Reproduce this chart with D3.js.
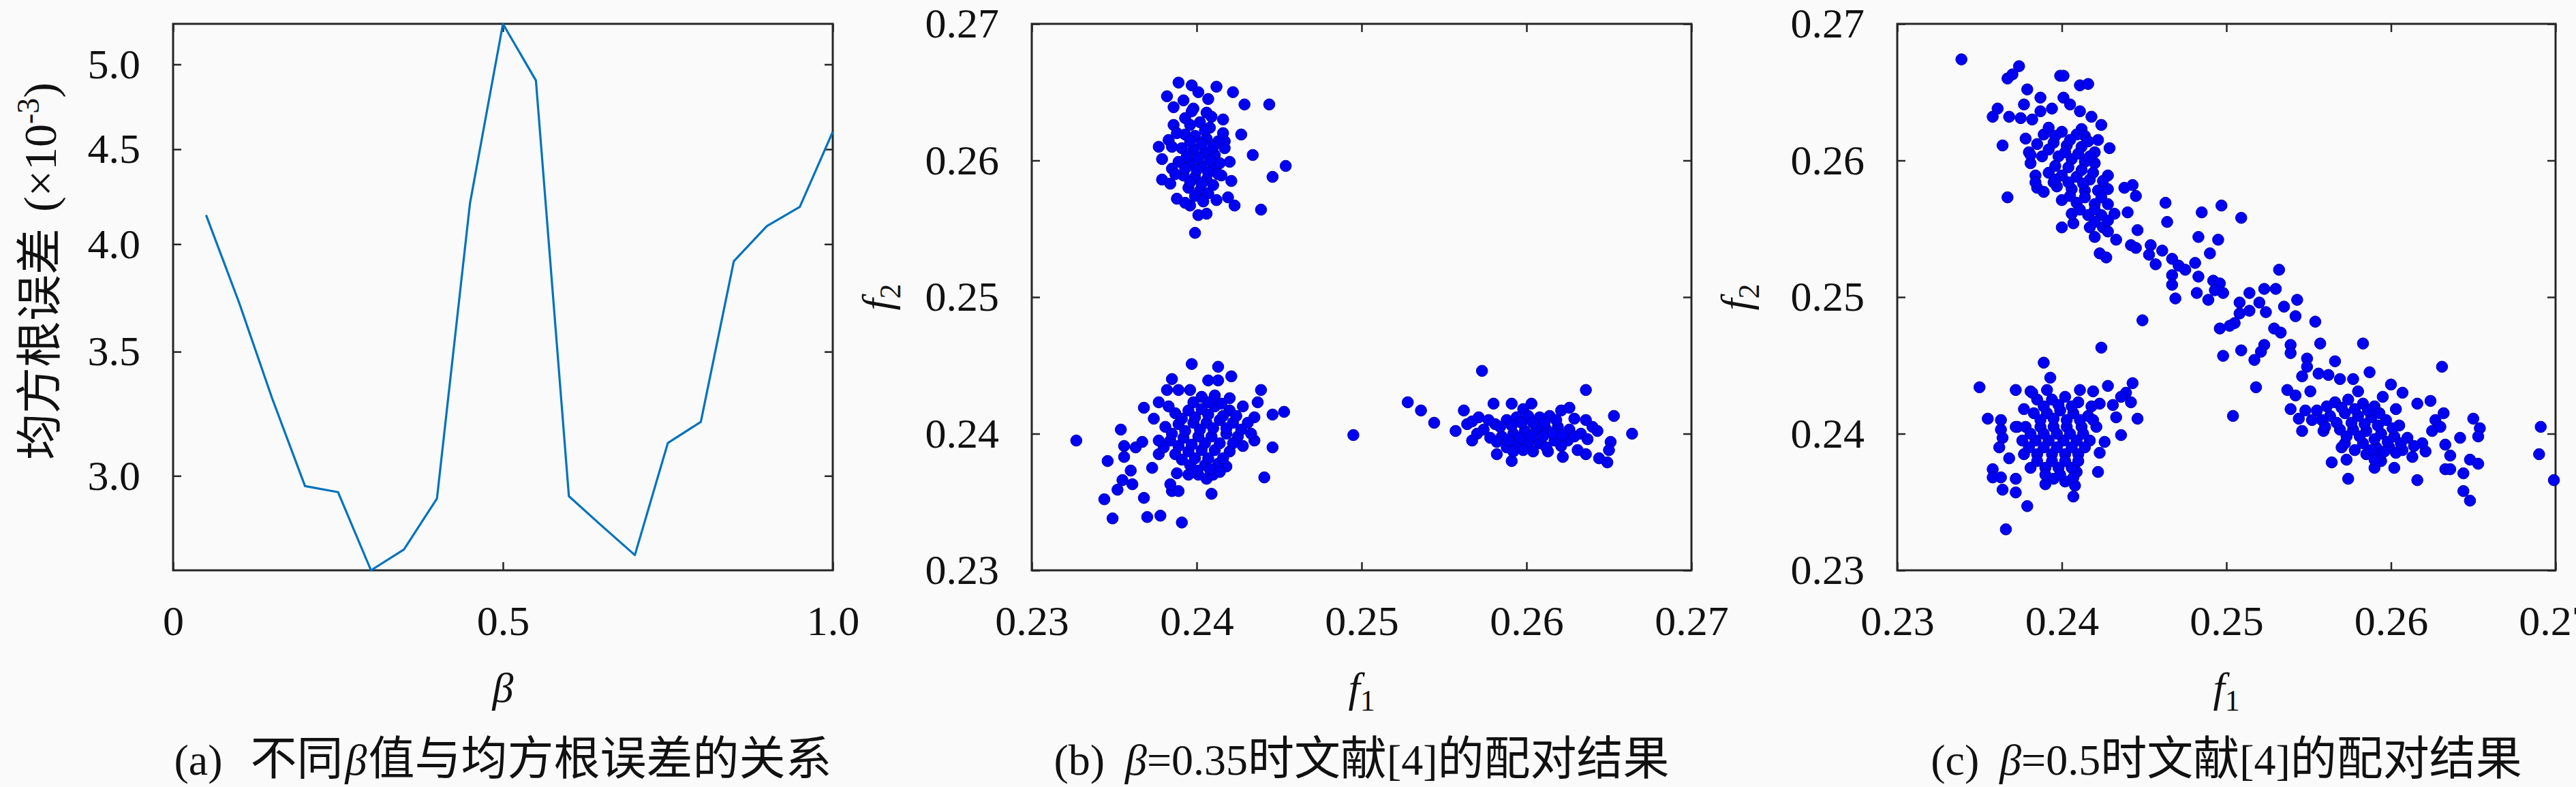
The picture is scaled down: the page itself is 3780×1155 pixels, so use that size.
<!DOCTYPE html>
<html>
<head>
<meta charset="utf-8">
<title>β值与均方根误差 / 配对结果</title>
<script src="https://cdn.jsdelivr.net/npm/d3@7"></script>
<style>
  body { margin: 0; background: #fafafa; }
  svg { display: block; }
  text { font-family: "Liberation Serif", "Noto Sans CJK SC", serif; fill: #111; }
</style>
</head>
<body>
<svg id="fig" width="3780" height="1155"></svg>
<script>
// ---- (a) 不同β值与均方根误差 ----
const beta = [0.05, 0.10, 0.15, 0.20, 0.25, 0.30, 0.35, 0.40, 0.45, 0.50,
              0.55, 0.60, 0.65, 0.70, 0.75, 0.80, 0.85, 0.90, 0.95, 1.00];
const rmse = [4.147, 3.720, 3.304, 2.962, 2.940, 2.668, 2.738, 2.917, 4.207, 5.258,
              4.901, 2.925, 2.819, 2.719, 3.125, 3.208, 3.916, 4.090, 4.189, 4.599];
const rmseTicks = [3.0, 3.5, 4.0, 4.5, 5.0];
const betaTicks = [0, 0.5, 1.0];
const fTicks = [0.23, 0.24, 0.25, 0.26, 0.27];

// ---- (b) β=0.35 配对结果 [f1, f2] ----
const pointsB = [
  // 左上簇
  [0.2389,0.2657],[0.2397,0.2655],[0.2401,0.2650],[0.2412,0.2654],[0.2407,0.2645],[0.2422,0.2650],
  [0.2382,0.2647],[0.2429,0.2641],[0.2444,0.2641],[0.2392,0.2644],[0.2386,0.2639],[0.2398,0.2638],
  [0.2406,0.2635],[0.2416,0.2630],[0.2386,0.2626],[0.2427,0.2619],[0.2377,0.2610],[0.2383,0.2615],
  [0.2417,0.2614],[0.2434,0.2604],[0.2454,0.2596],[0.2446,0.2588],[0.2420,0.2599],[0.2379,0.2601],
  [0.2379,0.2586],[0.2421,0.2585],[0.2388,0.2572],[0.2396,0.2567],[0.2412,0.2571],[0.2419,0.2573],
  [0.2423,0.2567],[0.2401,0.2560],[0.2406,0.2561],[0.2439,0.2564],[0.2399,0.2547],[0.2417,0.2609],
  [0.2415,0.2589],[0.2384,0.2583],[0.2393,0.2631],[0.2402,0.2628],[0.2408,0.2624],[0.2393,0.2619],
  [0.2399,0.2618],[0.2406,0.2616],[0.2391,0.2609],[0.2398,0.2608],[0.2405,0.2606],[0.2411,0.2604],
  [0.2389,0.2599],[0.2396,0.2598],[0.2403,0.2596],[0.2410,0.2594],[0.2392,0.2589],[0.2399,0.2588],
  [0.2406,0.2586],[0.2395,0.2580],[0.2402,0.2578],[0.2407,0.2576],[0.2385,0.2594],[0.2413,0.2614],
  [0.2385,0.2610],[0.2393,0.2569],[0.2414,0.2598],
  [0.2396,0.2626],[0.2405,0.2622],[0.2396,0.2614],[0.2403,0.2612],[0.2410,0.2610],[0.2394,0.2603],
  [0.2401,0.2602],[0.2408,0.2600],[0.2393,0.2594],[0.2400,0.2593],[0.2407,0.2591],[0.2396,0.2584],
  [0.2403,0.2583],[0.2410,0.2582],[0.2399,0.2574],[0.2388,0.2620],[0.2416,0.2620],[0.2387,0.2590],
  [0.2413,0.2590],[0.2404,0.2570],[0.2397,0.2636],[0.2409,0.2632],
  // 左下簇
  [0.2327,0.2395],[0.2354,0.2403],[0.2346,0.2380],[0.2356,0.2391],[0.2356,0.2383],[0.2363,0.2390],
  [0.2367,0.2394],[0.2360,0.2373],[0.2355,0.2366],[0.2361,0.2363],[0.2352,0.2359],[0.2344,0.2352],
  [0.2368,0.2353],[0.2349,0.2338],[0.2370,0.2339],[0.2378,0.2340],[0.2391,0.2335],[0.2368,0.2419],
  [0.2377,0.2423],[0.2374,0.2411],[0.2397,0.2451],[0.2413,0.2449],[0.2421,0.2442],[0.2385,0.2440],
  [0.2382,0.2432],[0.2389,0.2432],[0.2396,0.2432],[0.2407,0.2439],[0.2413,0.2439],[0.2439,0.2432],
  [0.2437,0.2423],[0.2446,0.2414],[0.2453,0.2416],[0.2428,0.2420],[0.2435,0.2395],[0.2446,0.2390],
  [0.2441,0.2368],[0.2409,0.2356],[0.2385,0.2358],[0.2389,0.2358],[0.2384,0.2363],[0.2388,0.2371],
  [0.2406,0.2367],[0.2373,0.2375],[0.2428,0.2391],[0.2435,0.2412],[0.2418,0.2376],[0.2403,0.2427],
  [0.2387,0.2415],[0.2395,0.2417],[0.2403,0.2418],[0.2411,0.2420],[0.2420,0.2417],[0.2381,0.2405],
  [0.2389,0.2407],[0.2398,0.2408],[0.2406,0.2408],[0.2414,0.2410],[0.2422,0.2408],[0.2431,0.2408],
  [0.2384,0.2395],[0.2392,0.2397],[0.2401,0.2398],[0.2409,0.2398],[0.2418,0.2400],[0.2425,0.2398],
  [0.2377,0.2385],[0.2387,0.2385],[0.2395,0.2387],[0.2403,0.2388],[0.2411,0.2388],[0.2420,0.2387],
  [0.2396,0.2377],[0.2405,0.2377],[0.2413,0.2378],[0.2401,0.2370],[0.2410,0.2370],[0.2411,0.2428],
  [0.2420,0.2426],[0.2398,0.2423],
  [0.2391,0.2411],[0.2399,0.2412],[0.2407,0.2414],[0.2416,0.2413],[0.2424,0.2413],[0.2385,0.2400],
  [0.2393,0.2402],[0.2402,0.2403],[0.2410,0.2404],[0.2418,0.2404],[0.2427,0.2403],[0.2380,0.2390],
  [0.2389,0.2391],[0.2397,0.2392],[0.2405,0.2393],[0.2414,0.2393],[0.2422,0.2393],[0.2391,0.2381],
  [0.2399,0.2382],[0.2407,0.2382],[0.2416,0.2382],[0.2400,0.2373],[0.2408,0.2374],[0.2415,0.2422],
  [0.2407,0.2423],[0.2383,0.2420],[0.2433,0.2400],[0.2377,0.2395],[0.2395,0.2370],[0.2414,0.2372],
  // 右侧簇
  [0.2495,0.2399],[0.2528,0.2423],[0.2536,0.2417],[0.2544,0.2408],[0.2573,0.2446],[0.2636,0.2432],
  [0.2653,0.2413],[0.2664,0.2400],[0.2562,0.2417],[0.2557,0.2402],[0.2567,0.2395],[0.2580,0.2422],
  [0.2591,0.2422],[0.2603,0.2422],[0.2621,0.2417],[0.2626,0.2419],[0.2636,0.2410],[0.2643,0.2402],
  [0.2651,0.2394],[0.2650,0.2388],[0.2644,0.2382],[0.2649,0.2379],[0.2591,0.2380],[0.2582,0.2385],
  [0.2622,0.2383],[0.2613,0.2387],[0.2636,0.2385],[0.2631,0.2388],[0.2571,0.2412],[0.2598,0.2418],
  [0.2574,0.2403],[0.2581,0.2407],[0.2588,0.2410],[0.2594,0.2412],[0.2601,0.2413],[0.2608,0.2412],
  [0.2614,0.2413],[0.2578,0.2397],[0.2585,0.2398],[0.2592,0.2400],[0.2599,0.2402],[0.2606,0.2403],
  [0.2612,0.2403],[0.2619,0.2405],[0.2626,0.2403],[0.2633,0.2400],[0.2588,0.2390],[0.2594,0.2392],
  [0.2601,0.2393],[0.2608,0.2393],[0.2617,0.2395],[0.2625,0.2395],[0.2604,0.2387],[0.2564,0.2407],
  [0.2629,0.2411],
  [0.2577,0.2410],[0.2584,0.2405],[0.2591,0.2406],[0.2597,0.2408],[0.2604,0.2408],[0.2611,0.2408],
  [0.2618,0.2410],[0.2582,0.2394],[0.2589,0.2395],[0.2596,0.2397],[0.2603,0.2398],[0.2610,0.2398],
  [0.2616,0.2400],[0.2622,0.2399],[0.2629,0.2398],[0.2592,0.2387],[0.2598,0.2388],[0.2612,0.2390],
  [0.2621,0.2391],[0.2570,0.2400],[0.2567,0.2409],[0.2637,0.2396],[0.2640,0.2405]
];

// ---- (c) β=0.5 配对结果 [f1, f2] ----
const pointsC = [
  // 左上簇
  [0.2339,0.2674],[0.2374,0.2669],[0.2367,0.2660],[0.2370,0.2663],[0.2399,0.2662],[0.2401,0.2662],
  [0.2411,0.2655],[0.2416,0.2656],[0.2379,0.2652],[0.2387,0.2646],[0.2401,0.2646],[0.2361,0.2638],
  [0.2358,0.2632],[0.2368,0.2632],[0.2377,0.2641],[0.2375,0.2631],[0.2382,0.2630],[0.2387,0.2636],
  [0.2394,0.2638],[0.2405,0.2641],[0.2411,0.2636],[0.2418,0.2632],[0.2424,0.2626],[0.2378,0.2616],
  [0.2364,0.2611],[0.2389,0.2619],[0.2422,0.2615],[0.2429,0.2609],[0.2380,0.2606],[0.2381,0.2598],
  [0.2384,0.2589],[0.2385,0.2580],[0.2389,0.2577],[0.2367,0.2573],[0.2400,0.2551],[0.2407,0.2554],
  [0.2428,0.2589],[0.2428,0.2579],[0.2438,0.2580],[0.2443,0.2582],[0.2433,0.2542],[0.2423,0.2532],
  [0.2427,0.2529],[0.2412,0.2623],[0.2414,0.2618],[0.2392,0.2624],[0.2400,0.2621],[0.2409,0.2619],
  [0.2395,0.2613],[0.2403,0.2611],[0.2412,0.2610],[0.2420,0.2606],[0.2388,0.2603],[0.2398,0.2603],
  [0.2406,0.2601],[0.2414,0.2599],[0.2420,0.2598],[0.2392,0.2591],[0.2400,0.2589],[0.2409,0.2588],
  [0.2417,0.2586],[0.2397,0.2581],[0.2406,0.2579],[0.2414,0.2578],[0.2422,0.2578],[0.2400,0.2571],
  [0.2409,0.2569],[0.2420,0.2568],[0.2428,0.2568],[0.2406,0.2561],[0.2416,0.2560],[0.2424,0.2560],
  [0.2432,0.2561],[0.2417,0.2551],[0.2425,0.2551],[0.2420,0.2544],[0.2428,0.2548],[0.2381,0.2604],
  [0.2384,0.2584],[0.2395,0.2584],
  [0.2396,0.2618],[0.2405,0.2615],[0.2416,0.2614],[0.2392,0.2608],[0.2402,0.2606],[0.2410,0.2605],
  [0.2417,0.2603],[0.2396,0.2596],[0.2404,0.2595],[0.2412,0.2593],[0.2419,0.2591],[0.2396,0.2586],
  [0.2404,0.2584],[0.2413,0.2583],[0.2405,0.2574],[0.2414,0.2573],[0.2424,0.2573],[0.2411,0.2564],
  [0.2420,0.2564],[0.2428,0.2556],[0.2420,0.2555],[0.2385,0.2612],[0.2425,0.2585],
  // 中间过渡带
  [0.2445,0.2574],[0.2440,0.2562],[0.2463,0.2569],[0.2464,0.2555],[0.2485,0.2562],[0.2497,0.2567],
  [0.2509,0.2558],[0.2446,0.2549],[0.2442,0.2538],[0.2445,0.2536],[0.2454,0.2538],[0.2453,0.2531],
  [0.2461,0.2534],[0.2457,0.2524],[0.2483,0.2544],[0.2495,0.2542],[0.2490,0.2532],[0.2467,0.2528],
  [0.2471,0.2523],[0.2481,0.2525],[0.2475,0.2520],[0.2467,0.2516],[0.2483,0.2515],[0.2467,0.2509],
  [0.2469,0.2499],[0.2482,0.2503],[0.2492,0.2512],[0.2496,0.2510],[0.2493,0.2505],[0.2489,0.2498],
  [0.2498,0.2503],[0.2449,0.2483],[0.2532,0.2520],[0.2514,0.2503],[0.2523,0.2506],[0.2530,0.2506],
  [0.2508,0.2496],[0.2520,0.2496],[0.2524,0.2489],[0.2514,0.2490],[0.2508,0.2488],[0.2535,0.2493],
  [0.2543,0.2498],[0.2542,0.2486],[0.2554,0.2482],[0.2505,0.2481],[0.2502,0.2479],[0.2496,0.2477],
  [0.2529,0.2477],[0.2533,0.2474],[0.2557,0.2466],[0.2539,0.2465],[0.2539,0.2459],[0.2523,0.2465],
  [0.2521,0.2460],[0.2509,0.2461],[0.2498,0.2457],[0.2517,0.2454],[0.2549,0.2455],[0.2549,0.2449],
  [0.2504,0.2413],[0.2518,0.2434],
  // 右下簇
  [0.2566,0.2453],[0.2583,0.2466],[0.2631,0.2449],[0.2587,0.2445],[0.2546,0.2442],[0.2537,0.2432],
  [0.2542,0.2428],[0.2539,0.2418],[0.2544,0.2411],[0.2546,0.2402],[0.2551,0.2431],[0.2556,0.2444],
  [0.2562,0.2443],[0.2569,0.2440],[0.2577,0.2440],[0.2580,0.2431],[0.2600,0.2436],[0.2607,0.2430],
  [0.2616,0.2422],[0.2624,0.2424],[0.2632,0.2415],[0.2627,0.2410],[0.2625,0.2402],[0.2630,0.2405],
  [0.2650,0.2411],[0.2654,0.2404],[0.2653,0.2398],[0.2642,0.2397],[0.2633,0.2392],[0.2636,0.2384],
  [0.2648,0.2381],[0.2653,0.2378],[0.2633,0.2374],[0.2636,0.2374],[0.2644,0.2371],[0.2644,0.2358],
  [0.2648,0.2351],[0.2616,0.2366],[0.2602,0.2375],[0.2590,0.2375],[0.2594,0.2380],[0.2574,0.2367],
  [0.2564,0.2379],[0.2573,0.2381],[0.2570,0.2390],[0.2559,0.2402],[0.2621,0.2387],[0.2613,0.2383],
  [0.2691,0.2405],[0.2690,0.2385],[0.2699,0.2366],[0.2548,0.2417],[0.2595,0.2427],[0.2603,0.2418],
  [0.2566,0.2423],[0.2574,0.2425],[0.2583,0.2422],[0.2590,0.2420],[0.2563,0.2413],[0.2572,0.2415],
  [0.2580,0.2413],[0.2588,0.2412],[0.2597,0.2410],[0.2605,0.2406],[0.2569,0.2403],[0.2577,0.2403],
  [0.2585,0.2402],[0.2594,0.2400],[0.2602,0.2398],[0.2610,0.2397],[0.2619,0.2393],[0.2572,0.2393],
  [0.2583,0.2393],[0.2591,0.2390],[0.2599,0.2390],[0.2607,0.2388],[0.2585,0.2385],[0.2594,0.2385],
  [0.2555,0.2417],[0.2558,0.2410],[0.2552,0.2410],
  [0.2570,0.2419],[0.2578,0.2418],[0.2586,0.2417],[0.2593,0.2415],[0.2567,0.2408],[0.2576,0.2408],
  [0.2584,0.2407],[0.2592,0.2406],[0.2601,0.2404],[0.2573,0.2398],[0.2581,0.2398],[0.2590,0.2396],
  [0.2598,0.2394],[0.2606,0.2393],[0.2614,0.2391],[0.2578,0.2388],[0.2588,0.2388],[0.2596,0.2387],
  [0.2603,0.2386],[0.2590,0.2381],[0.2561,0.2420],[0.2560,0.2405],
  // 左下簇
  [0.2424,0.2463],[0.2389,0.2452],[0.2393,0.2441],[0.2350,0.2434],[0.2372,0.2432],[0.2381,0.2431],
  [0.2391,0.2432],[0.2411,0.2432],[0.2419,0.2431],[0.2428,0.2435],[0.2443,0.2437],[0.2439,0.2430],
  [0.2436,0.2427],[0.2442,0.2423],[0.2423,0.2422],[0.2431,0.2421],[0.2446,0.2411],[0.2433,0.2412],
  [0.2436,0.2399],[0.2426,0.2394],[0.2355,0.2411],[0.2363,0.2410],[0.2363,0.2403],[0.2364,0.2397],
  [0.2362,0.2390],[0.2368,0.2382],[0.2358,0.2374],[0.2358,0.2368],[0.2363,0.2368],[0.2364,0.2359],
  [0.2372,0.2367],[0.2372,0.2357],[0.2379,0.2347],[0.2366,0.2330],[0.2390,0.2363],[0.2407,0.2354],
  [0.2408,0.2362],[0.2409,0.2372],[0.2422,0.2372],[0.2423,0.2386],[0.2377,0.2418],[0.2373,0.2405],
  [0.2385,0.2425],[0.2394,0.2425],[0.2402,0.2427],[0.2410,0.2423],[0.2383,0.2415],[0.2391,0.2415],
  [0.2399,0.2417],[0.2407,0.2415],[0.2416,0.2413],[0.2378,0.2405],[0.2387,0.2405],[0.2395,0.2405],
  [0.2403,0.2405],[0.2412,0.2405],[0.2421,0.2405],[0.2376,0.2395],[0.2384,0.2395],[0.2392,0.2395],
  [0.2401,0.2395],[0.2409,0.2395],[0.2417,0.2395],[0.2377,0.2385],[0.2385,0.2385],[0.2394,0.2385],
  [0.2402,0.2385],[0.2410,0.2385],[0.2381,0.2375],[0.2390,0.2375],[0.2398,0.2375],[0.2406,0.2375],
  [0.2395,0.2367],[0.2402,0.2365],[0.2372,0.2405],
  [0.2389,0.2420],[0.2398,0.2421],[0.2406,0.2420],[0.2387,0.2410],[0.2395,0.2411],[0.2403,0.2410],
  [0.2411,0.2410],[0.2419,0.2410],[0.2381,0.2400],[0.2389,0.2400],[0.2397,0.2400],[0.2405,0.2400],
  [0.2413,0.2400],[0.2380,0.2390],[0.2389,0.2390],[0.2397,0.2390],[0.2406,0.2390],[0.2414,0.2390],
  [0.2385,0.2380],[0.2394,0.2380],[0.2402,0.2380],[0.2410,0.2380],[0.2390,0.2370],[0.2399,0.2370],
  [0.2407,0.2368],[0.2382,0.2430],[0.2418,0.2420]
];

const svg = d3.select("#fig");
const FS = 62;          // 刻度字号
const CJK = 68;         // 中文字号
const LAT = 64;         // 图题中西文字号
const TOP = 35, BOTTOM = 837;
const CAP_Y = 1137;     // 图题基线
const ink = "#262626";

// 画坐标框 + 四边向内的刻度
function frame(g, x, y, xt, yt, xfmt, yfmt) {
  const [x0, x1] = x.range();
  g.append("rect")
    .attr("x", x0).attr("y", TOP)
    .attr("width", x1 - x0).attr("height", BOTTOM - TOP)
    .attr("fill", "none").attr("stroke", ink).attr("stroke-width", 3);

  const axes = [
    [d3.axisBottom(x).tickValues(xt).tickFormat(xfmt).tickPadding(51), `translate(0,${BOTTOM})`],
    [d3.axisTop(x).tickValues(xt).tickFormat(""), `translate(0,${TOP})`],
    [d3.axisLeft(y).tickValues(yt).tickFormat(yfmt).tickPadding(48), `translate(${x0},0)`],
    [d3.axisRight(y).tickValues(yt).tickFormat(""), `translate(${x1},0)`]
  ];
  axes.forEach(([ax, tr]) => {
    g.append("g").attr("transform", tr)
      .call(ax.tickSizeInner(-12).tickSizeOuter(0))
      .attr("font-size", FS).attr("font-family", "Liberation Serif").attr("color", ink)
      .call(a => a.select(".domain").remove())
      .call(a => a.selectAll(".tick line").attr("stroke-width", 2.5));
  });
}

// 图题：各段分别给字号、斜体和间距
function caption(cx, parts) {
  const t = svg.append("text")
    .attr("x", cx).attr("y", CAP_Y)
    .attr("text-anchor", "middle");
  parts.forEach(p => {
    const s = t.append("tspan").text(p.t).attr("font-size", p.fs || LAT);
    if (p.it) s.attr("font-style", "italic");
    if (p.dx) s.attr("dx", p.dx);
  });
}

function fLabel(g, x, y, sub, rotate) {
  const t = g.append("text")
    .attr("transform", `translate(${x},${y})` + (rotate ? " rotate(-90)" : ""))
    .attr("text-anchor", "middle").attr("font-size", FS);
  t.append("tspan").attr("font-style", "italic").text("f");
  t.append("tspan").attr("font-size", 44).attr("dy", "0.3em").text(sub);
}

// ---------- (a) ----------
const gA = svg.append("g");
const xA = d3.scaleLinear().domain([0, 1]).range([254, 1222]);
const yA = d3.scaleLog().domain(d3.extent(rmse)).range([BOTTOM, TOP]);

frame(gA, xA, yA, betaTicks, rmseTicks,
      d => d === 0 ? "0" : d3.format(".1f")(d), d3.format(".1f"));

gA.append("path")
  .datum(beta.map((b, i) => [b, rmse[i]]))
  .attr("fill", "none").attr("stroke", "#0072BD").attr("stroke-width", 3.2)
  .attr("stroke-linejoin", "round")
  .attr("d", d3.line().x(d => xA(d[0])).y(d => yA(d[1])));

gA.append("text").attr("x", 738).attr("y", 1030)
  .attr("text-anchor", "middle").attr("font-size", FS)
  .attr("font-style", "italic").text("β");

const yl = gA.append("text")
  .attr("transform", "translate(82,398) rotate(-90)")
  .attr("text-anchor", "middle");
yl.append("tspan").attr("font-size", CJK).text("均方根误差");
yl.append("tspan").attr("font-size", 68).attr("dx", 24).text("(×10");
yl.append("tspan").attr("font-size", 46).attr("dy", "-0.55em").text("-3");
yl.append("tspan").attr("font-size", 68).attr("dy", "0.37em").text(")");

caption(738, [{t: "(a)"}, {t: "不同", fs: CJK, dx: 41}, {t: "β", it: true, dx: 3},
              {t: "值与均方根误差的关系", fs: CJK, dx: 2}]);

// ---------- (b) (c) 散点 ----------
function scatter(pts, left, right, cx, capParts, ylabX) {
  const g = svg.append("g");
  const x = d3.scaleLinear().domain([0.23, 0.27]).range([left, right]);
  const y = d3.scaleLinear().domain([0.23, 0.27]).range([BOTTOM, TOP]);
  frame(g, x, y, fTicks, fTicks, d3.format(".2f"), d3.format(".2f"));

  g.append("g").selectAll("circle")
    .data(pts)
    .join("circle")
    .attr("cx", d => x(d[0]))
    .attr("cy", d => y(d[1]))
    .attr("r", 8.3)
    .attr("fill", "#0000f5")
    .attr("stroke", "#0000a8")
    .attr("stroke-width", 1);

  fLabel(g, cx, 1030, "1", false);
  fLabel(g, ylabX, 436, "2", true);
  caption(cx, capParts);
}

scatter(pointsB, 1514, 2482, 1998,
        [{t: "(b)"}, {t: "β", it: true, dx: 30}, {t: "=0.35"},
         {t: "时文献", fs: CJK}, {t: "[4]"}, {t: "的配对结果", fs: CJK}], 1308);
scatter(pointsC, 2784, 3750, 3267,
        [{t: "(c)"}, {t: "β", it: true, dx: 30}, {t: "=0.5"},
         {t: "时文献", fs: CJK}, {t: "[4]"}, {t: "的配对结果", fs: CJK}], 2568);
</script>
</body>
</html>
